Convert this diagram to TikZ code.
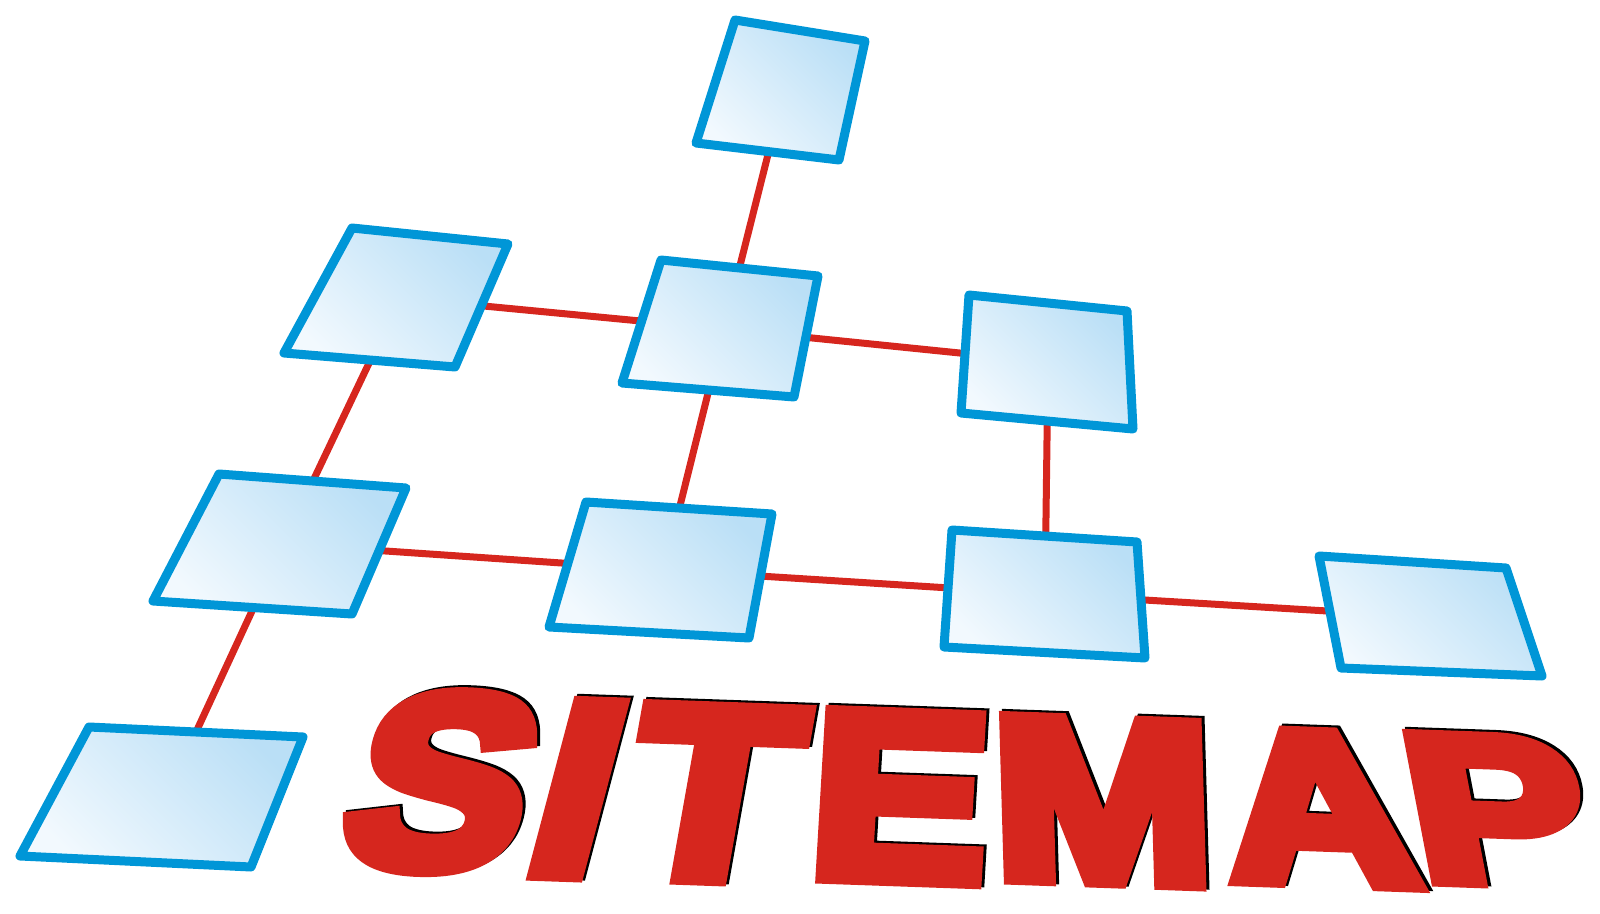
\documentclass[tikz,border=0pt]{standalone}
\usepackage{fontspec}
\newfontface\signfont[FakeBold=7]{Liberation Sans Bold}
\definecolor{siteblue}{RGB}{0,150,215}
\definecolor{sitered}{RGB}{214,38,30}
\definecolor{pagelight}{RGB}{242,249,254}
\definecolor{pagedark}{RGB}{186,223,246}
\tikzset{
  link/.style={draw=sitered, line width=3.5pt},
  page/.style={draw=siteblue, line width=4.5pt, line join=round,
    top color=pagedark, bottom color=pagelight, shading angle=-45},
  letter/.style={inner sep=0pt, anchor=base, transform shape, miter limit=2,
    yslant=-0.035, xscale=1.07, font=\signfont\fontsize{123}{123}\selectfont},
  shadow/.style={xshift=1.5pt, yshift=1pt, letter, text=black},
}
\begin{document}
\begin{tikzpicture}[x=0.5pt, y=-0.5pt]
  \useasboundingbox (0,0) rectangle (1600,914);
  % page centres
  \coordinate (1) at (784,91);
  \coordinate (2) at (400,298);
  \coordinate (3) at (724,329);
  \coordinate (4) at (1048,362);
  \coordinate (5) at (283,544);
  \coordinate (6) at (664,570);
  \coordinate (7) at (1045,594);
  \coordinate (8) at (1427,617);
  \coordinate (9) at (166,797);
  % links
  \draw[link] (1) -- (3);
  \draw[link] (2) -- (3);
  \draw[link] (3) -- (4);
  \draw[link] (2) -- (5);
  \draw[link] (3) -- (6);
  \draw[link] (4) -- (7);
  \draw[link] (5) -- (6);
  \draw[link] (6) -- (7);
  \draw[link] (7) -- (8);
  \draw[link] (5) -- (9);
  % pages
  \shadedraw[page] (735,20) -- (865,41) -- (839,160) -- (696,143) -- cycle;
  \shadedraw[page] (352,228) -- (508,244) -- (455,367) -- (284,353) -- cycle;
  \shadedraw[page] (661,260) -- (818,276) -- (794,397) -- (622,383) -- cycle;
  \shadedraw[page] (969,295) -- (1127,311) -- (1133,429) -- (961,413) -- cycle;
  \shadedraw[page] (219,474) -- (406,488) -- (352,614) -- (153,601) -- cycle;
  \shadedraw[page] (586,502) -- (772,514) -- (749,638) -- (549,627) -- cycle;
  \shadedraw[page] (952,530) -- (1137,542) -- (1145,658) -- (944,647) -- cycle;
  \shadedraw[page] (1319,556) -- (1506,568) -- (1542,676) -- (1341,668) -- cycle;
  \shadedraw[page] (89,727) -- (303,737) -- (251,867) -- (20,856) -- cycle;
  % title
  \node[shadow, xslant=0.245, yscale=1.0] (s-sh) at (421,866) {S};
  \node[shadow, xslant=0.245, yscale=1.0] (i-sh) at (556,873) {I};
  \node[shadow, xslant=0.165, yscale=0.99] (t-sh) at (699,877) {T};
  \node[shadow, xslant=0.055, yscale=0.96] (e-sh) at (895,878) {E};
  \node[shadow, xslant=-0.027, yscale=0.93] (m-sh) at (1105,880) {M};
  \node[shadow, xslant=-0.12, yscale=0.87] (a-sh) at (1328,882) {A};
  \node[shadow, xslant=-0.18, yscale=0.84] (p-sh) at (1510,882) {P};
  \node[letter, text=sitered, xslant=0.245, yscale=1.0] (s) at (421,866) {S};
  \node[letter, text=sitered, xslant=0.245, yscale=1.0] (i) at (556,873) {I};
  \node[letter, text=sitered, xslant=0.165, yscale=0.99] (t) at (699,877) {T};
  \node[letter, text=sitered, xslant=0.055, yscale=0.96] (e) at (895,878) {E};
  \node[letter, text=sitered, xslant=-0.027, yscale=0.93] (m) at (1105,880) {M};
  \node[letter, text=sitered, xslant=-0.12, yscale=0.87] (a) at (1328,882) {A};
  \node[letter, text=sitered, xslant=-0.18, yscale=0.84] (p) at (1510,882) {P};
\end{tikzpicture}
\end{document}
